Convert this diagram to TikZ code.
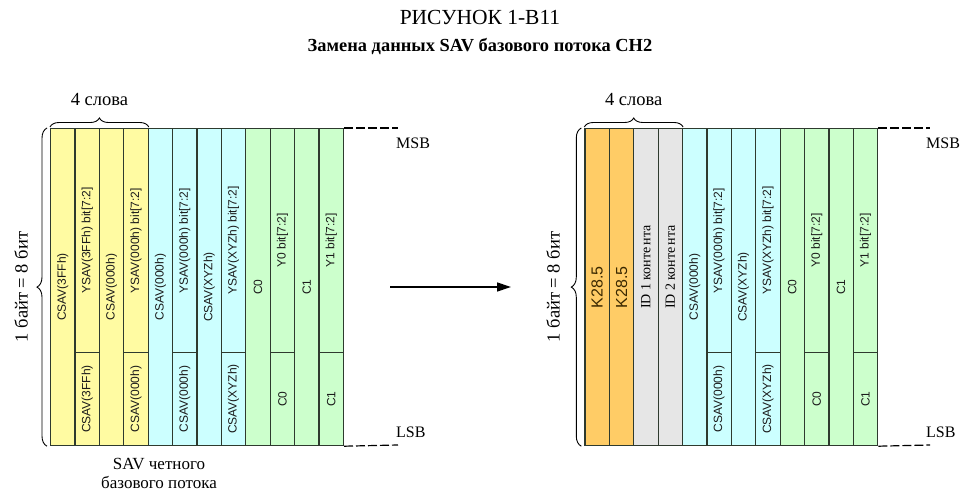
\documentclass[tikz,border=0pt]{standalone}
\usepackage{fontspec}
\setmainfont{Liberation Serif}
\setsansfont{Liberation Sans}
\usetikzlibrary{decorations.pathreplacing,arrows.meta,calc}
\definecolor{cyel}{HTML}{FFFBA2}
\definecolor{ccyan}{HTML}{CCFFFF}
\definecolor{cgreen}{HTML}{CCFFCC}
\definecolor{corange}{HTML}{FFCC66}
\definecolor{cgray}{HTML}{E6E6E6}
\definecolor{cline}{HTML}{2E3A2E}
\definecolor{ctext}{HTML}{1A1A1A}
\definecolor{ktext}{HTML}{3A2800}
\begin{document}
\begin{tikzpicture}[x=1pt,y=-1pt,
  box/.style={draw=cline, line width=1.2pt, inner sep=0pt, anchor=north west, minimum width=24.4pt},
  full/.style={box, minimum height=317pt},
  upper/.style={box, minimum height=224pt},
  lower/.style={box, minimum height=93pt},
  lab/.style={font=\sffamily\fontsize{12}{14}\selectfont, text=ctext, rotate=90, inner sep=0pt},
  klab/.style={font=\sffamily\fontsize{16}{18}\selectfont, text=ktext, rotate=90, inner sep=0pt},
  idlab/.style={font=\fontsize{14}{16}\selectfont, rotate=90, inner sep=0pt},
  txt/.style={font=\fontsize{18.5}{21}\selectfont, inner sep=0pt},
  brace/.style={decorate, decoration={brace, amplitude=9pt}, line width=0.9pt},
  dashline/.style={line width=1.2pt, dash pattern=on 9pt off 3pt},
]
\useasboundingbox (0,0) rectangle (961,494);

% titles
\node[font=\fontsize{21.5}{24}\selectfont] (title1) at (480,17) {РИСУНОК 1-В11};
\node[font=\bfseries\fontsize{18.4}{21}\selectfont] (title2) at (480,47) {Замена данных SAV базового потока CH2};

% ---------- left diagram ----------
\foreach \i/\c/\t in {1/cyel/CSAV(3FFh), 3/cyel/CSAV(000h), 5/ccyan/CSAV(000h), 7/ccyan/CSAV(XYZh), 9/cgreen/C0, 11/cgreen/C1}{
  \node[full, fill=\c] (L\i) at ({50+(\i-1)*24.4},128) {};
  \node[lab] (Lt\i) at (L\i.center) {\t};
}
\foreach \i/\c/\t/\b in {2/cyel/YSAV(3FFh) bit[7:2]/CSAV(3FFh), 4/cyel/YSAV(000h) bit[7:2]/CSAV(000h), 6/ccyan/YSAV(000h) bit[7:2]/CSAV(000h), 8/ccyan/YSAV(XYZh) bit[7:2]/CSAV(XYZh), 10/cgreen/Y0 bit[7:2]/C0, 12/cgreen/Y1 bit[7:2]/C1}{
  \node[upper, fill=\c] (Lu\i) at ({50+(\i-1)*24.4},128) {};
  \node[lower, fill=\c] (Ld\i) at ({50+(\i-1)*24.4},352) {};
  \node[lab] (Lut\i) at (Lu\i.center) {\t};
  \node[lab] (Ldt\i) at (Ld\i.center) {\b};
}

% ---------- right diagram ----------
\foreach \i in {1,2}{
  \node[full, fill=corange] (R\i) at ({584.3+(\i-1)*24.4},128) {};
  \node[klab] (Rt\i) at (R\i.center) {K28.5};
}
\foreach \i/\t in {3/ID 1 конте\kern2pt нта, 4/ID 2 конте\kern2pt нта}{
  \node[full, fill=cgray] (R\i) at ({584.3+(\i-1)*24.4},128) {};
  \node[idlab] (Rt\i) at ([yshift=20pt]R\i.center) {\t};
}
\foreach \i/\c/\t in {5/ccyan/CSAV(000h), 7/ccyan/CSAV(XYZh), 9/cgreen/C0, 11/cgreen/C1}{
  \node[full, fill=\c] (R\i) at ({584.3+(\i-1)*24.4},128) {};
  \node[lab] (Rt\i) at (R\i.center) {\t};
}
\foreach \i/\c/\t/\b in {6/ccyan/YSAV(000h) bit[7:2]/CSAV(000h), 8/ccyan/YSAV(XYZh) bit[7:2]/CSAV(XYZh), 10/cgreen/Y0 bit[7:2]/C0, 12/cgreen/Y1 bit[7:2]/C1}{
  \node[upper, fill=\c] (Ru\i) at ({584.3+(\i-1)*24.4},128) {};
  \node[lower, fill=\c] (Rd\i) at ({584.3+(\i-1)*24.4},352) {};
  \node[lab] (Rut\i) at (Ru\i.center) {\t};
  \node[lab] (Rdt\i) at (Rd\i.center) {\b};
}

% braces
\draw[brace, decoration={raise=1pt}] (L1.north west) -- (Lu4.north east);
\node[txt] (w4L) at ($(L1.north west)!0.5!(Lu4.north east)+(0,-28)$) {4 слова};
\draw[brace, decoration={raise=1pt}] (R1.north west) -- (R4.north east);
\node[txt] (w4R) at ($(R1.north west)!0.5!(R4.north east)+(0,-28)$) {4 слова};

\draw[brace, decoration={raise=3pt, amplitude=10pt}] (L1.south west) -- (L1.north west);
\node[txt, rotate=90] (byteL) at (21,287) {1 байт = 8 бит};
\draw[brace, decoration={raise=3pt, amplitude=10pt}] (R1.south west) -- (R1.north west);
\node[txt, rotate=90] (byteR) at (553,287) {1 байт = 8 бит};

% MSB / LSB
\coordinate (mL) at (398,128);
\coordinate (lL) at (398,445);
\draw[dashline] (Lu12.north east) -- (mL);
\draw[dashline] (Ld12.south east) -- (lL);
\node[font=\fontsize{16}{18}\selectfont, anchor=west, inner sep=0pt] (msbL) at (396,143) {MSB};
\node[font=\fontsize{16}{18}\selectfont, anchor=west, inner sep=0pt] (lsbL) at (396,432) {LSB};

\coordinate (mR) at (930,128);
\coordinate (lR) at (930,445);
\draw[dashline] (Ru12.north east) -- (mR);
\draw[dashline] (Rd12.south east) -- (lR);
\node[font=\fontsize{16}{18}\selectfont, anchor=west, inner sep=0pt] (msbR) at (926,143) {MSB};
\node[font=\fontsize{16}{18}\selectfont, anchor=west, inner sep=0pt] (lsbR) at (926,432) {LSB};

% arrow
\coordinate (a1) at (390,287);
\coordinate (a2) at (511,287);
\draw[line width=1.3pt, -{Triangle[length=14pt, width=9pt]}] (a1) -- (a2);

% caption
\node[font=\fontsize{17}{19}\selectfont, align=center, inner sep=0pt] (cap) at (159,473) {SAV четного\\базового потока};
\end{tikzpicture}
\end{document}
